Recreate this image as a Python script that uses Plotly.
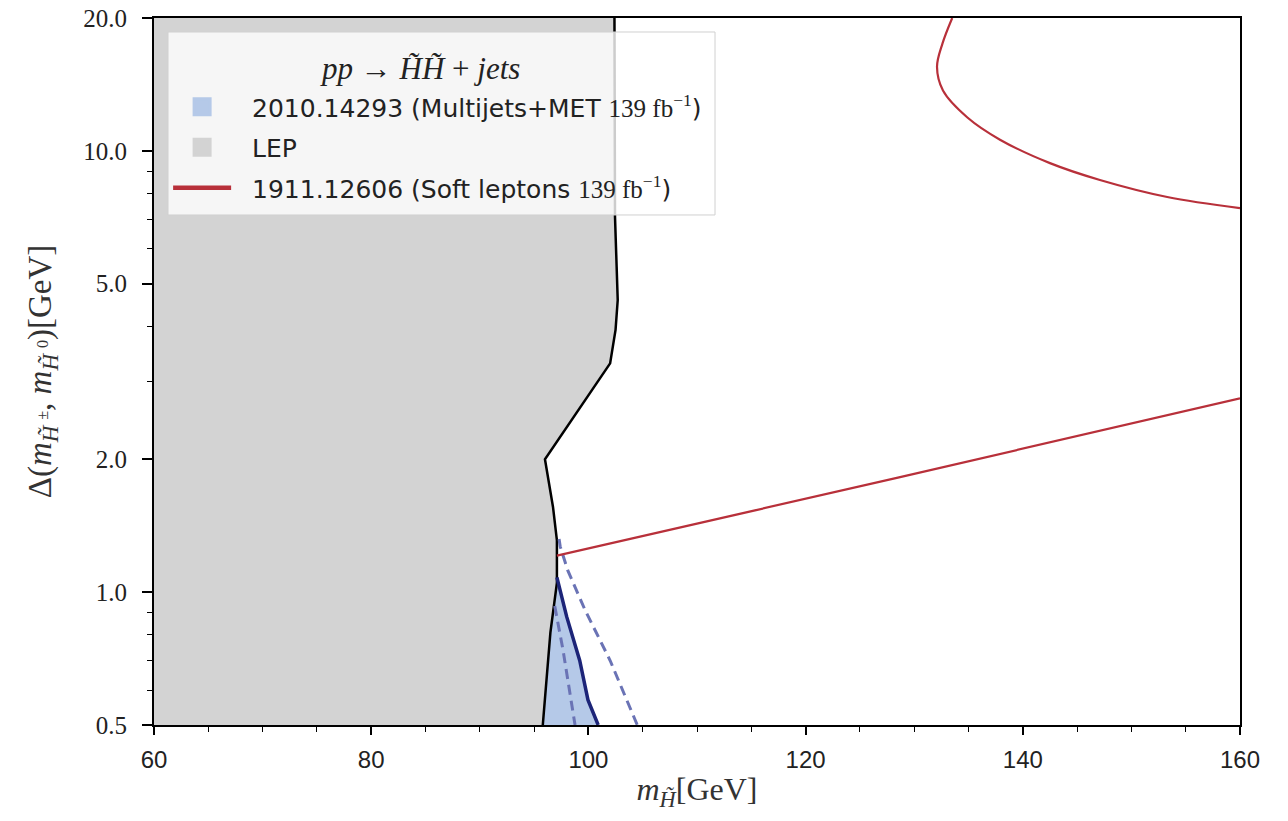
import plotly.graph_objects as go

# ---- data ----
lep_x = [102.4, 102.45, 102.6, 102.7, 102.5, 102.0, 96.0, 96.74, 97.1, 97.1, 96.5, 95.8]
lep_y = [20.0, 7.08, 5.46, 4.59, 3.93, 3.30, 2.0, 1.56, 1.31, 1.05, 0.81, 0.5]

mj_obs_x = [97.1, 98.0, 99.2, 99.96, 100.9]
mj_obs_y = [1.08, 0.88, 0.70, 0.57, 0.5]

mj_lo_x = [96.9, 97.66, 98.77]
mj_lo_y = [0.93, 0.74, 0.5]

mj_hi_x = [97.3, 97.4, 98.1, 99.7, 102.0, 104.5]
mj_hi_y = [1.32, 1.27, 1.12, 0.91, 0.70, 0.5]

sl_low_x = [97.1, 128.6, 160.0]
sl_low_y = [1.21, 1.82, 2.75]

sl_up_x = [133.5, 132.6, 132.1, 132.65, 134.9, 137.9, 142.5, 147.1, 153.3, 160.0]
sl_up_y = [20.0, 17.5, 15.5, 13.7, 11.9, 10.6, 9.38, 8.59, 7.86, 7.42]

x_range = [60, 160]
x_ticks = [60, 80, 100, 120, 140, 160]
y_min, y_max = 0.5, 20.0
y_ticks = [0.5, 1.0, 2.0, 5.0, 10.0, 20.0]
y_ticktext = ["0.5", "1.0", "2.0", "5.0", "10.0", "20.0"]
y_minor = [0.6, 0.7, 0.8, 0.9, 3, 4, 6, 7, 8, 9]

legend_title = "<i>pp</i> → <i>H̃H̃</i> + <i>jets</i>"

C_GRAY = "#d3d3d3"
C_BLUE = "#b5c9e8"
C_NAVY = "#1c2478"
C_DASH = "#6a73b5"
C_RED = "#b8303a"

SERIF = "Liberation Serif"
SANS = "DejaVu Sans"

fig = go.Figure()

# LEP grey region
fig.add_trace(go.Scatter(
    x=[x_range[0], x_range[0]] + lep_x,
    y=[y_min, y_max] + lep_y,
    fill="toself", fillcolor=C_GRAY, mode="none",
    showlegend=False, hoverinfo="skip"))

# Multijets+MET excluded region: between LEP boundary and observed line
lep_lower_x = [lep_x[i] for i in range(len(lep_y)) if lep_y[i] <= mj_obs_y[0]]
lep_lower_y = [lep_y[i] for i in range(len(lep_y)) if lep_y[i] <= mj_obs_y[0]]
fig.add_trace(go.Scatter(
    x=mj_obs_x + lep_lower_x[::-1],
    y=mj_obs_y + lep_lower_y[::-1],
    fill="toself", fillcolor=C_BLUE, mode="none",
    showlegend=False, hoverinfo="skip"))

# LEP boundary line
fig.add_trace(go.Scatter(x=lep_x, y=lep_y, mode="lines",
                         line=dict(color="black", width=2.5),
                         showlegend=False, hoverinfo="skip"))

# dashed expected band lines
for dx, dy in ((mj_lo_x, mj_lo_y), (mj_hi_x, mj_hi_y)):
    fig.add_trace(go.Scatter(x=dx, y=dy, mode="lines",
                             line=dict(color=C_DASH, width=3, dash="10px,6px"),
                             showlegend=False, hoverinfo="skip"))
# observed solid
fig.add_trace(go.Scatter(x=mj_obs_x, y=mj_obs_y, mode="lines",
                         line=dict(color=C_NAVY, width=3.5),
                         showlegend=False, hoverinfo="skip"))

# soft leptons contours
fig.add_trace(go.Scatter(x=sl_low_x, y=sl_low_y, mode="lines",
                         line=dict(color=C_RED, width=2.2),
                         showlegend=False, hoverinfo="skip"))
fig.add_trace(go.Scatter(x=sl_up_x, y=sl_up_y, mode="lines",
                         line=dict(color=C_RED, width=2.2, shape="spline"),
                         showlegend=False, hoverinfo="skip"))

# legend entries
pad = "\u00a0\u00a0"
fb = '<span style="font-family:Liberation Serif">139 fb<sup>−1</sup></span>'
fig.add_trace(go.Scatter(x=[None], y=[None], mode="markers",
                         marker=dict(symbol="square", size=18, color=C_BLUE,
                                     line=dict(color=C_BLUE, width=3)),
                         name=f"{pad}2010.14293 (Multijets+MET {fb})", legendgroup="a"))
fig.add_trace(go.Scatter(x=[None], y=[None], mode="markers",
                         marker=dict(symbol="square", size=18, color=C_GRAY,
                                     line=dict(color=C_GRAY, width=3)),
                         name=f"{pad}LEP", legendgroup="b"))
fig.add_trace(go.Scatter(x=[None], y=[None], mode="lines",
                         line=dict(color=C_RED, width=4.5),
                         name=f"{pad}1911.12606 (Soft leptons {fb})", legendgroup="c"))

# legend frame + title
fig.add_shape(type="rect", xref="paper", yref="paper",
              x0=0.0129, x1=0.5166, y0=0.7214, y1=0.9802,
              fillcolor="rgba(255,255,255,0.8)", line=dict(color="#d0d0d0", width=1),
              layer="above")
fig.add_annotation(text=legend_title, xref="paper", yref="paper",
                   x=0.245, y=0.929, xanchor="center", yanchor="middle",
                   showarrow=False, font=dict(family=SERIF, size=31, color="#222222"))

fig.update_layout(
    width=1288, height=821,
    margin=dict(l=154, r=48, t=18, b=96, autoexpand=False),
    paper_bgcolor="white", plot_bgcolor="white",
    showlegend=True,
    legend=dict(
        x=0.013, y=0.9066, xanchor="left", yanchor="top",
        bgcolor="rgba(0,0,0,0)", borderwidth=0,
        font=dict(family=SANS, size=25, color="#222222"),
        traceorder="grouped", tracegroupgap=5,
        itemwidth=58,
    ),
    xaxis=dict(
        range=x_range, showgrid=False, zeroline=False, automargin=False,
        showline=True, linecolor="black", linewidth=2, mirror=True,
        ticks="outside", ticklen=8, tickwidth=1.5, tickcolor="black",
        tickvals=x_ticks, ticklabelstandoff=4,
        tickfont=dict(family="Liberation Sans", size=24, color="#222222"),
        minor=dict(dtick=5, ticks="outside", ticklen=5, tickcolor="black", tickwidth=1),
        title=dict(text="<i>m</i><sub><i>H̃</i></sub>[GeV]",
                   font=dict(family=SERIF, size=32, color="#333333"), standoff=6),
    ),
    yaxis=dict(
        type="log", range=[-0.30105, 1.30105], showgrid=False, zeroline=False,
        automargin=False, ticklabeloverflow="allow",
        showline=True, linecolor="black", linewidth=2, mirror=True,
        ticks="outside", ticklen=10, tickwidth=1.5, tickcolor="black",
        tickvals=y_ticks, ticktext=y_ticktext, ticklabelstandoff=10,
        tickfont=dict(family=SERIF, size=25, color="#222222"),
        minor=dict(tickvals=y_minor, ticks="outside", ticklen=5, tickcolor="black", tickwidth=1),
        title=dict(text="Δ(<i>m</i><sub><i>H̃</i> <sup>±</sup></sub>, <i>m</i><sub><i>H̃</i> <sup>0</sup></sub>)[GeV]",
                   font=dict(family=SERIF, size=33, color="#333333"), standoff=22),
    ),
)

fig.write_html("out.html", config={"displayModeBar": False},
               post_script="document.body.style.margin='0px';")
